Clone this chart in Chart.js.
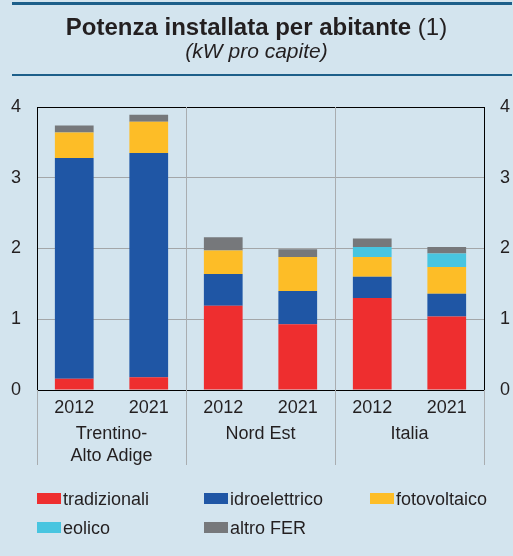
<!DOCTYPE html>
<html>
<head>
<meta charset="utf-8">
<script src="https://cdn.jsdelivr.net/npm/chart.js@4.4.1/dist/chart.umd.min.js"></script>
<style>
  body { margin: 0; background: #d3e4ee; font-family: "Liberation Sans", Arial, sans-serif; color: #231f20; }
  #wrap { position: relative; width: 513px; height: 556px; overflow: hidden; }
  #wrap canvas { position: absolute; left: 0; top: 0; }
  .rule { position: absolute; left: 12px; width: 500px; background: #1d5f8a; }
  .title { position: absolute; left: 0; width: 513px; text-align: center; white-space: nowrap; }
  .legend-item { position: absolute; font-size: 18px; line-height: 20px; white-space: nowrap; }
  .legend-item span { display: inline-block; width: 24px; height: 11px; margin-right: 2px; vertical-align: 1px; }
</style>
</head>
<body>
<div id="wrap">
  <canvas id="potenza" width="513" height="556"></canvas>
  <div class="rule" style="top:2px;height:3px"></div>
  <div class="title" style="top:13px;font-size:24px;line-height:28px"><b>Potenza installata per abitante</b> (1)</div>
  <div class="title" style="top:39px;font-size:21px;line-height:24px"><i>(kW pro capite)</i></div>
  <div class="rule" style="top:74px;height:2px"></div>
  <div id="legend"></div>
</div>
<script>
const categories = ['2012', '2021', '2012', '2021', '2012', '2021'];
const groups = [['Trentino-', 'Alto Adige'], ['Nord Est'], ['Italia']];
const yTicks = [0, 1, 2, 3, 4];

const tradizionali = [0.16, 0.18, 1.19, 0.93, 1.30, 1.04];
const idroelettrico = [3.12, 3.17, 0.45, 0.47, 0.30, 0.32];
const fotovoltaico = [0.36, 0.44, 0.33, 0.48, 0.28, 0.38];
const eolico = [0.00, 0.00, 0.00, 0.00, 0.14, 0.19];
const altroFer = [0.10, 0.10, 0.19, 0.11, 0.12, 0.09];

const series = [
  { label: 'tradizionali', data: tradizionali, color: '#ee2e2f' },
  { label: 'idroelettrico', data: idroelettrico, color: '#1f56a5' },
  { label: 'fotovoltaico', data: fotovoltaico, color: '#fdbd27' },
  { label: 'eolico', data: eolico, color: '#48c5e0' },
  { label: 'altro FER', data: altroFer, color: '#76787b' }
];

// legend laid out on a fixed 3-column grid
const legendPos = [[37, 489], [204, 489], [370, 489], [37, 518], [204, 518]];
const legend = document.getElementById('legend');
series.forEach((s, i) => {
  const item = document.createElement('div');
  item.className = 'legend-item';
  item.style.left = legendPos[i][0] + 'px';
  item.style.top = legendPos[i][1] + 'px';
  item.innerHTML = '<span style="background:' + s.color + '"></span>' + s.label;
  legend.appendChild(item);
});

// group separators and the region names under the years
const groupAxis = {
  id: 'groupAxis',
  afterDraw(chart) {
    const ctx = chart.ctx;
    const x = chart.scales.x;
    const area = chart.chartArea;
    const half = (x.getPixelForValue(1) - x.getPixelForValue(0)) / 2;
    ctx.save();
    ctx.strokeStyle = '#a9adb0';
    ctx.lineWidth = 1;
    for (let g = 0; g <= groups.length; g++) {
      const px = Math.round(x.getPixelForValue(g * 2) - half) + 0.5;
      const top = (g === 0 || g === groups.length) ? area.bottom : area.top;
      ctx.beginPath();
      ctx.moveTo(px, top);
      ctx.lineTo(px, 465);
      ctx.stroke();
    }
    ctx.fillStyle = '#231f20';
    ctx.font = '18px "Liberation Sans", Arial, sans-serif';
    ctx.textAlign = 'center';
    ctx.textBaseline = 'middle';
    groups.forEach((lines, g) => {
      const cx = (x.getPixelForValue(g * 2) + x.getPixelForValue(g * 2 + 1)) / 2;
      lines.forEach((t, k) => ctx.fillText(t, cx, 434 + k * 22));
    });
    ctx.restore();
  }
};

const tickFont = { family: '"Liberation Sans", Arial, sans-serif', size: 18 };

new Chart(document.getElementById('potenza'), {
  type: 'bar',
  data: {
    labels: categories,
    datasets: series.map(s => ({
      label: s.label,
      data: s.data,
      backgroundColor: s.color,
      borderWidth: 0,
      categoryPercentage: 1,
      barPercentage: 0.52
    }))
  },
  options: {
    responsive: false,
    animation: false,
    layout: { padding: { top: 107, left: 0, right: 0, bottom: 0 } },
    plugins: { legend: { display: false }, title: { display: false }, tooltip: { enabled: false } },
    scales: {
      x: {
        stacked: true,
        afterFit: s => { s.height = 166; },
        grid: { display: true, drawOnChartArea: false, drawTicks: false },
        border: { color: '#000', width: 1 },
        ticks: { color: '#231f20', font: tickFont, padding: 7, maxRotation: 0 }
      },
      y: {
        stacked: true,
        min: 0,
        max: 4,
        afterFit: s => { s.width = 37; },
        afterBuildTicks: s => { s.ticks = yTicks.map(v => ({ value: v })); },
        grid: {
          drawTicks: false,
          color: c => (c.tick && (c.tick.value === 0 || c.tick.value === 4)) ? '#000' : '#a3a6a8',
          lineWidth: 1
        },
        border: { color: '#000', width: 1 },
        ticks: { color: '#231f20', font: tickFont, padding: 16 }
      },
      y2: {
        position: 'right',
        min: 0,
        max: 4,
        afterFit: s => { s.width = 29; },
        afterBuildTicks: s => { s.ticks = yTicks.map(v => ({ value: v })); },
        grid: { drawOnChartArea: false, drawTicks: false },
        border: { color: '#000', width: 1 },
        ticks: { color: '#231f20', font: tickFont, padding: 16 }
      }
    }
  },
  plugins: [groupAxis]
});
</script>
</body>
</html>
